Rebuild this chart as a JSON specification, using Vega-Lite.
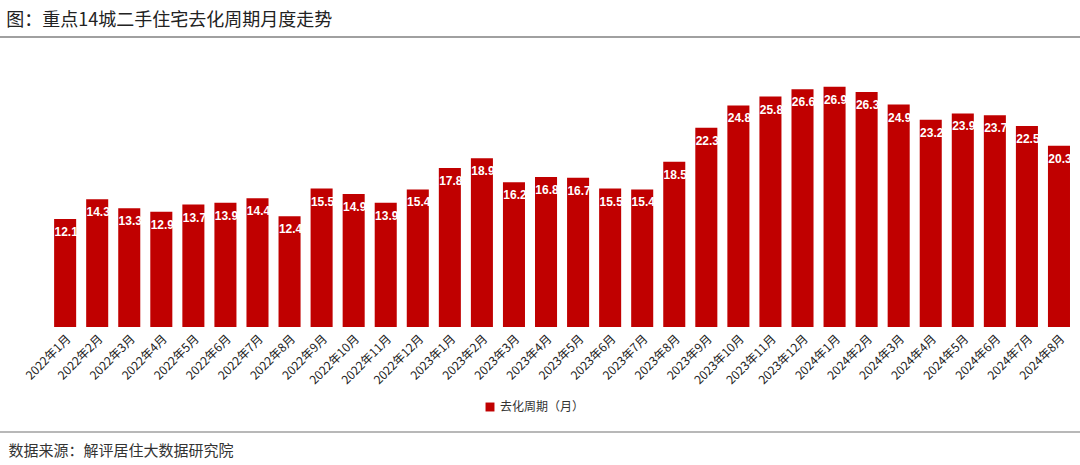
{
  "$schema": "https://vega.github.io/schema/vega-lite/v6.json",
  "autosize": "none",
  "width": 1080,
  "height": 268,
  "padding": {"left": 0, "top": 59, "right": 0, "bottom": 138},
  "background": "white",
  "title": {
    "text": "图：重点14城二手住宅去化周期月度走势",
    "anchor": "start",
    "font": "Noto Sans CJK SC",
    "fontSize": 18,
    "fontWeight": "normal",
    "color": "#222222",
    "dx": 7,
    "offset": 6
  },
  "config": {
    "view": {"stroke": null},
    "font": "Noto Sans CJK SC"
  },
  "data": {
    "values": [
      {"month": "2022年1月", "value": 12.1, "series": "去化周期（月）"},
      {"month": "2022年2月", "value": 14.3, "series": "去化周期（月）"},
      {"month": "2022年3月", "value": 13.3, "series": "去化周期（月）"},
      {"month": "2022年4月", "value": 12.9, "series": "去化周期（月）"},
      {"month": "2022年5月", "value": 13.7, "series": "去化周期（月）"},
      {"month": "2022年6月", "value": 13.9, "series": "去化周期（月）"},
      {"month": "2022年7月", "value": 14.4, "series": "去化周期（月）"},
      {"month": "2022年8月", "value": 12.4, "series": "去化周期（月）"},
      {"month": "2022年9月", "value": 15.5, "series": "去化周期（月）"},
      {"month": "2022年10月", "value": 14.9, "series": "去化周期（月）"},
      {"month": "2022年11月", "value": 13.9, "series": "去化周期（月）"},
      {"month": "2022年12月", "value": 15.4, "series": "去化周期（月）"},
      {"month": "2023年1月", "value": 17.8, "series": "去化周期（月）"},
      {"month": "2023年2月", "value": 18.9, "series": "去化周期（月）"},
      {"month": "2023年3月", "value": 16.2, "series": "去化周期（月）"},
      {"month": "2023年4月", "value": 16.8, "series": "去化周期（月）"},
      {"month": "2023年5月", "value": 16.7, "series": "去化周期（月）"},
      {"month": "2023年6月", "value": 15.5, "series": "去化周期（月）"},
      {"month": "2023年7月", "value": 15.4, "series": "去化周期（月）"},
      {"month": "2023年8月", "value": 18.5, "series": "去化周期（月）"},
      {"month": "2023年9月", "value": 22.3, "series": "去化周期（月）"},
      {"month": "2023年10月", "value": 24.8, "series": "去化周期（月）"},
      {"month": "2023年11月", "value": 25.8, "series": "去化周期（月）"},
      {"month": "2023年12月", "value": 26.6, "series": "去化周期（月）"},
      {"month": "2024年1月", "value": 26.9, "series": "去化周期（月）"},
      {"month": "2024年2月", "value": 26.3, "series": "去化周期（月）"},
      {"month": "2024年3月", "value": 24.9, "series": "去化周期（月）"},
      {"month": "2024年4月", "value": 23.2, "series": "去化周期（月）"},
      {"month": "2024年5月", "value": 23.9, "series": "去化周期（月）"},
      {"month": "2024年6月", "value": 23.7, "series": "去化周期（月）"},
      {"month": "2024年7月", "value": 22.5, "series": "去化周期（月）"},
      {"month": "2024年8月", "value": 20.3, "series": "去化周期（月）"}
    ]
  },
  "layer": [
    {
      "mark": {"type": "bar"},
      "encoding": {
        "x": {
          "field": "month",
          "type": "ordinal",
          "sort": null,
          "scale": {"paddingInner": 0.3125, "paddingOuter": 1.03, "align": 0.844},
          "axis": {
            "labelAngle": -45,
            "labelFontSize": 12,
            "labelColor": "#222222",
            "labelFont": "Noto Sans CJK SC",
            "labelPadding": 6,
            "domain": false,
            "ticks": false,
            "grid": false,
            "title": "数据来源：解评居住大数据研究院",
            "titleFont": "Noto Sans CJK SC",
            "titleFontSize": 15,
            "titleFontWeight": "normal",
            "titleColor": "#333333",
            "titleAnchor": "start",
            "titleAlign": "left",
            "titleBaseline": "middle",
            "titleX": 8,
            "titleY": 123
          }
        },
        "y": {
          "field": "value",
          "type": "quantitative",
          "scale": {"domain": [0, 30], "nice": false, "zero": true},
          "axis": null
        },
        "y2": {"datum": 0},
        "color": {
          "field": "series",
          "type": "nominal",
          "scale": {"range": ["#C00000"]},
          "legend": {
            "orient": "none",
            "legendX": 484,
            "legendY": 342,
            "title": null,
            "direction": "horizontal",
            "symbolType": "square",
            "symbolSize": 80,
            "symbolStrokeWidth": 0,
            "labelFontSize": 12,
            "labelColor": "#333333",
            "labelFont": "Noto Sans CJK SC"
          }
        }
      }
    },
    {
      "mark": {"type": "text", "color": "white", "fontWeight": "bold", "fontSize": 12, "font": "Liberation Sans", "baseline": "middle", "dy": 13, "dx": 1},
      "encoding": {
        "x": {"field": "month", "type": "ordinal", "sort": null},
        "y": {"field": "value", "type": "quantitative"},
        "text": {"field": "value", "type": "quantitative", "format": ".1f"}
      }
    },
    {
      "data": {"values": [{}]},
      "mark": {"type": "rule", "color": "#808080", "strokeWidth": 1.5},
      "encoding": {"y": {"datum": 32.46}}
    },
    {
      "data": {"values": [{}]},
      "mark": {"type": "rule", "color": "#a0a0a0", "strokeWidth": 1.5},
      "encoding": {"y": {"datum": -11.75}}
    }
  ]
}
